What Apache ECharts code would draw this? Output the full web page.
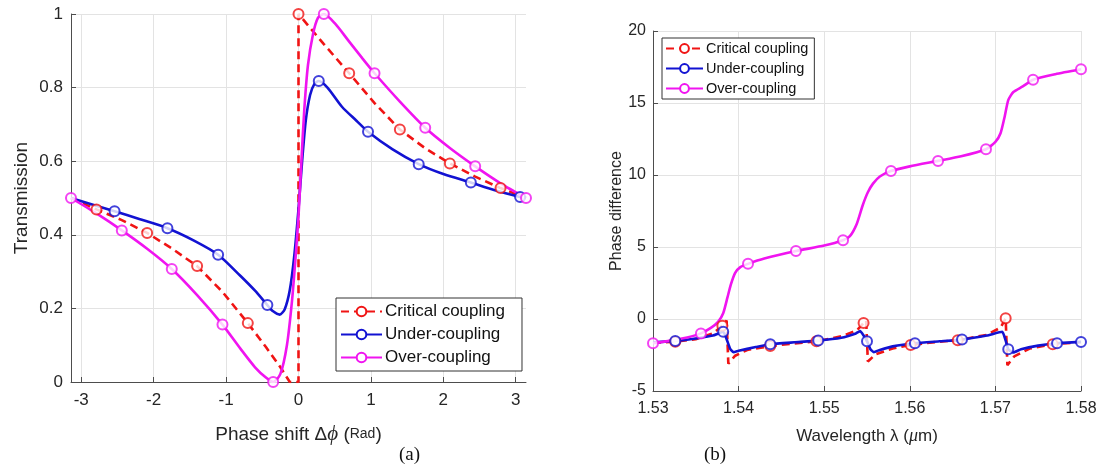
<!DOCTYPE html>
<html><head><meta charset="utf-8">
<script src="https://cdn.jsdelivr.net/npm/echarts@6/dist/echarts.min.js"></script>
<style>html,body{margin:0;padding:0;background:#fff}#c{width:1102px;height:471px}</style>
</head><body><div id="c"></div><script>
const PI = Math.PI;
const seriesNames = ['Critical coupling', 'Under-coupling', 'Over-coupling'];

// ---------- Panel (a): Transmission vs phase shift ----------
const critA = [[-3.1416,0.5],[-2.79,0.469],[-2.44,0.44],[-2.09,0.405],[-1.75,0.363],[-1.40,0.315],[-1.05,0.245],[-0.70,0.16],[-0.45,0.095],[-0.25,0.04],[-0.12,0.0],[0,0.0],[0,1.0],[0.35,0.918],[0.70,0.839],[1.05,0.758],[1.40,0.686],[1.75,0.635],[2.09,0.594],[2.44,0.558],[2.79,0.527],[3.1416,0.5]];
const critAMarkers = [[-2.79,0.469],[-2.09,0.405],[-1.40,0.315],[-0.70,0.16],[0,1.0],[0.70,0.839],[1.40,0.686],[2.09,0.594],[2.79,0.527]];

const underA = [[-3.1416,0.5],[-2.54,0.464],[-2.2,0.443],[-1.81,0.418],[-1.45,0.385],[-1.11,0.346],[-0.8,0.288],[-0.6,0.248],[-0.43,0.209],[-0.35,0.192],[-0.26,0.183],[-0.19,0.198],[-0.12,0.25],[-0.06,0.34],[0.0,0.47],[0.05,0.6],[0.1,0.71],[0.16,0.78],[0.22,0.81],[0.28,0.818],[0.4,0.8],[0.6,0.748],[0.8,0.71],[0.96,0.68],[1.3,0.632],[1.66,0.592],[2.0,0.565],[2.38,0.542],[2.7,0.522],[3.06,0.503],[3.1416,0.5]];
const underAMarkers = [[-2.54,0.464],[-1.81,0.418],[-1.11,0.346],[-0.43,0.209],[0.28,0.818],[0.96,0.68],[1.66,0.592],[2.38,0.542],[3.06,0.503]];

const overA = [[-3.1416,0.5],[-2.79,0.458],[-2.44,0.412],[-2.09,0.362],[-1.75,0.307],[-1.40,0.236],[-1.05,0.156],[-0.8,0.09],[-0.6,0.04],[-0.45,0.012],[-0.35,0.0],[-0.25,0.022],[-0.16,0.1],[-0.09,0.22],[-0.04,0.34],[0.0,0.45],[0.04,0.6],[0.08,0.74],[0.13,0.86],[0.2,0.945],[0.27,0.99],[0.35,1.0],[0.5,0.975],[0.7,0.925],[0.88,0.88],[1.05,0.839],[1.40,0.762],[1.75,0.691],[2.09,0.636],[2.44,0.586],[2.79,0.54],[3.1416,0.5]];
const overAMarkers = [[-3.1416,0.5],[-2.44,0.412],[-1.75,0.307],[-1.05,0.156],[-0.35,0.0],[0.35,1.0],[1.05,0.839],[1.75,0.691],[2.44,0.586],[3.1416,0.5]];

// ---------- Panel (b): Phase difference vs wavelength ----------
const critB = [[1.530,-1.65],[1.5326,-1.58],[1.535,-1.4],[1.537,-1.0],[1.5381,-0.47],[1.5386,-0.1],[1.5388,-3.1],[1.5396,-2.55],[1.541,-2.15],[1.5437,-1.88],[1.5465,-1.7],[1.5491,-1.55],[1.552,-1.2],[1.5538,-0.8],[1.5546,-0.28],[1.5549,-0.1],[1.5551,-2.95],[1.556,-2.45],[1.558,-2.05],[1.5601,-1.8],[1.563,-1.6],[1.5656,-1.48],[1.569,-1.1],[1.5706,-0.6],[1.5712,0.05],[1.5714,-3.2],[1.5722,-2.6],[1.574,-2.05],[1.5767,-1.75],[1.580,-1.6]];
const critBMarkers = [[1.5326,-1.58],[1.5381,-0.47],[1.5437,-1.88],[1.5491,-1.55],[1.5546,-0.28],[1.5601,-1.8],[1.5656,-1.48],[1.5712,0.05],[1.5767,-1.75]];

const underB = [[1.530,-1.62],[1.5326,-1.52],[1.535,-1.35],[1.537,-1.15],[1.5382,-0.89],[1.5386,-1.4],[1.5390,-2.05],[1.5394,-2.3],[1.540,-2.2],[1.542,-1.95],[1.5437,-1.75],[1.5465,-1.62],[1.5493,-1.5],[1.552,-1.3],[1.5537,-1.0],[1.5542,-0.84],[1.5546,-1.15],[1.5550,-1.54],[1.5554,-2.1],[1.5558,-2.3],[1.5565,-2.15],[1.558,-1.9],[1.5606,-1.68],[1.5635,-1.55],[1.5661,-1.43],[1.569,-1.15],[1.5708,-0.89],[1.5712,-1.5],[1.5715,-2.1],[1.5721,-2.32],[1.573,-2.1],[1.575,-1.85],[1.5772,-1.68],[1.580,-1.59]];
const underBMarkers = [[1.5326,-1.52],[1.5382,-0.89],[1.5437,-1.75],[1.5493,-1.5],[1.5550,-1.54],[1.5606,-1.68],[1.5661,-1.43],[1.5715,-2.1],[1.5772,-1.68],[1.580,-1.59]];

const overB = [[1.530,-1.68],[1.532,-1.5],[1.534,-1.28],[1.5356,-1.0],[1.5368,-0.6],[1.5376,-0.2],[1.5382,0.4],[1.5387,1.5],[1.5391,2.4],[1.5396,3.2],[1.5402,3.6],[1.5411,3.83],[1.543,4.2],[1.5467,4.72],[1.550,5.1],[1.5522,5.47],[1.5530,5.75],[1.5538,6.6],[1.5545,7.9],[1.5551,8.8],[1.5557,9.4],[1.5565,9.9],[1.5578,10.28],[1.560,10.6],[1.5633,10.98],[1.566,11.3],[1.5689,11.79],[1.5700,12.3],[1.5706,12.9],[1.5711,14.1],[1.5715,15.2],[1.5721,15.76],[1.5732,16.15],[1.5744,16.62],[1.577,17.0],[1.580,17.34]];
const overBMarkers = [[1.530,-1.68],[1.5356,-1.0],[1.5411,3.83],[1.5467,4.72],[1.5522,5.47],[1.5578,10.28],[1.5633,10.98],[1.5689,11.79],[1.5744,16.62],[1.580,17.34]];

const yTicksA = [0, 0.2, 0.4, 0.6, 0.8, 1];

const colors = ['#f01414', '#1212d2', '#f014f0'];
const FONT = 'Liberation Sans, Arial, sans-serif';
const axisCol = '#4d4d4d';
const gridCol = '#e3e3e3';

function lineSeries(name, data, idx, gi, dashed, smooth) {
  return {
    name: name, type: 'line', xAxisIndex: gi, yAxisIndex: gi,
    data: data, showSymbol: false, symbol: 'emptyCircle', symbolSize: 9,
    smooth: smooth, color: colors[idx],
    lineStyle: {width: 2.6, color: colors[idx], type: dashed ? [8, 5] : 'solid'},
    itemStyle: {color: colors[idx], borderWidth: 2.2},
    z: 3 + idx, animation: false
  };
}
function markerSeries(name, data, idx, gi) {
  return {
    name: name, type: 'scatter', xAxisIndex: gi, yAxisIndex: gi,
    data: data, symbol: 'emptyCircle', symbolSize: 10,
    itemStyle: {color: colors[idx], borderColor: colors[idx], borderWidth: 2.6},
    z: 6 + idx, animation: false
  };
}

function valueAxisCommon() {
  return {
    axisLine: {show: true, onZero: false, lineStyle: {color: axisCol, width: 1}},
    axisTick: {show: true, inside: true, length: 5, lineStyle: {color: axisCol}},
    splitLine: {show: true, lineStyle: {color: gridCol, width: 1}},
    axisLabel: {color: '#262626', fontFamily: FONT, fontSize: 17, margin: 8}
  };
}

const option = {
  backgroundColor: '#fff',
  animation: false,
  grid: [
    {left: 71, top: 14, width: 455, height: 368},
    {left: 653, top: 31, width: 428, height: 360}
  ],
  xAxis: [
    Object.assign(valueAxisCommon(), {
      gridIndex: 0, type: 'value', min: -PI, max: PI,
      name: '{a|Phase shift Δ}{p|ϕ}{a| (}{r|Rad}{a|)}',
      nameLocation: 'middle', nameGap: 42,
      nameTextStyle: {rich: {
        a: {fontFamily: FONT, fontSize: 19, color: '#262626'},
        p: {fontFamily: 'Liberation Serif, serif', fontStyle: 'italic', fontSize: 21, color: '#262626'},
        r: {fontFamily: FONT, fontSize: 14, color: '#262626'}
      }},
      axisLabel: {color: '#262626', fontFamily: FONT, fontSize: 17, margin: 10, showMinLabel: false, showMaxLabel: false},
      splitLine: {show: true, showMinLine: false, showMaxLine: false, lineStyle: {color: gridCol}}
    }),
    Object.assign(valueAxisCommon(), {
      gridIndex: 1, type: 'value', min: 1.53, max: 1.58, interval: 0.01,
      name: '{a|Wavelength λ (}{m|μ}{a|m)}',
      nameLocation: 'middle', nameGap: 36,
      nameTextStyle: {rich: {
        a: {fontFamily: FONT, fontSize: 17, color: '#262626'},
        m: {fontFamily: 'Liberation Serif, serif', fontStyle: 'italic', fontSize: 18, color: '#262626'}
      }},
      axisLabel: {color: '#262626', fontFamily: FONT, fontSize: 16, margin: 10, formatter: v => v.toFixed(2)}
    })
  ],
  yAxis: [
    Object.assign(valueAxisCommon(), {
      gridIndex: 0, type: 'value', min: yTicksA[0], max: yTicksA[yTicksA.length - 1], interval: 0.2,
      name: 'Transmission', nameLocation: 'middle', nameGap: 40,
      nameTextStyle: {fontFamily: FONT, fontSize: 19, color: '#262626'}
    }),
    Object.assign(valueAxisCommon(), {
      gridIndex: 1, type: 'value', min: -5, max: 20, interval: 5,
      name: 'Phase difference', nameLocation: 'middle', nameGap: 28,
      nameTextStyle: {fontFamily: FONT, fontSize: 16, color: '#262626'},
      axisLabel: {color: '#262626', fontFamily: FONT, fontSize: 16, margin: 7}
    })
  ],
  legend: [
    {
      left: 336, top: 298, orient: 'vertical', data: seriesNames,
      itemWidth: 41, itemHeight: 12, itemGap: 6, padding: [5, 17, 5, 4],
      backgroundColor: '#fff', borderColor: '#333', borderWidth: 1,
      textStyle: {fontFamily: FONT, fontSize: 17, color: '#111', padding: [0, 0, 0, -2]},
      selectedMode: false
    },
    {
      left: 662, top: 38, orient: 'vertical', data: seriesNames,
      itemWidth: 37, itemHeight: 11, itemGap: 5, padding: [3, 6, 3, 3],
      backgroundColor: '#fff', borderColor: '#333', borderWidth: 1,
      textStyle: {fontFamily: FONT, fontSize: 14.5, color: '#111', padding: [0, 0, 0, -2]},
      selectedMode: false
    }
  ],
  graphic: [
    {type: 'text', left: 399, top: 446, style: {text: '(a)', font: '19px "Liberation Serif", serif', fill: '#111'}},
    {type: 'text', left: 704, top: 446, style: {text: '(b)', font: '19px "Liberation Serif", serif', fill: '#111'}}
  ],
  series: [
    lineSeries(seriesNames[0], critA, 0, 0, true, false),
    lineSeries(seriesNames[1], underA, 1, 0, false, 0.25),
    lineSeries(seriesNames[2], overA, 2, 0, false, 0.25),
    markerSeries(seriesNames[0], critAMarkers, 0, 0),
    markerSeries(seriesNames[1], underAMarkers, 1, 0),
    markerSeries(seriesNames[2], overAMarkers, 2, 0),
    lineSeries(seriesNames[0], critB, 0, 1, true, false),
    lineSeries(seriesNames[1], underB, 1, 1, false, 0.15),
    lineSeries(seriesNames[2], overB, 2, 1, false, 0.2),
    markerSeries(seriesNames[0], critBMarkers, 0, 1),
    markerSeries(seriesNames[1], underBMarkers, 1, 1),
    markerSeries(seriesNames[2], overBMarkers, 2, 1)
  ]
};
const chart = echarts.init(document.getElementById('c'), null, {renderer: 'canvas'});
chart.setOption(option);
</script></body></html>
